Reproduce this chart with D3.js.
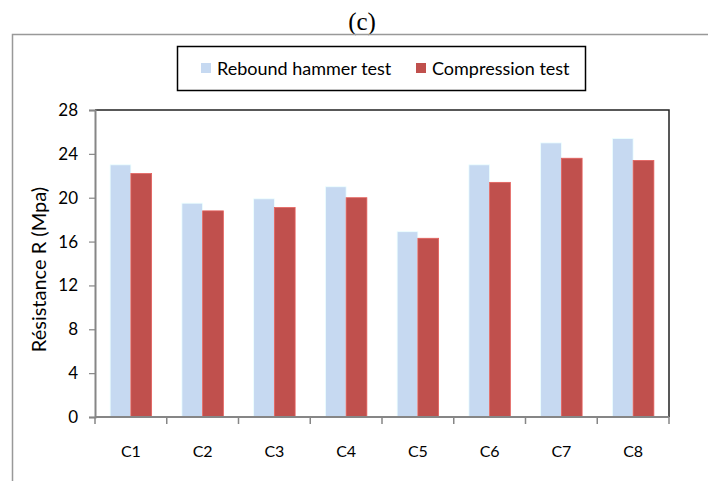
<!DOCTYPE html>
<html>
<head>
<meta charset="utf-8">
<script src="https://cdn.jsdelivr.net/npm/d3@7"></script>
<style>
  body { margin: 0; background: #fff; }
  text { font-family: Lato, "Open Sans", sans-serif; fill: #000; }
</style>
</head>
<body>
<div id="chart"></div>
<script>
var categories = ['C1', 'C2', 'C3', 'C4', 'C5', 'C6', 'C7', 'C8'],
  seriesNames = ['Rebound hammer test', 'Compression test'],
  rebound = [23.0, 19.5, 19.9, 21.0, 16.9, 23.0, 25.0, 25.4],
  compression = [22.2, 18.8, 19.1, 20.0, 16.3, 21.4, 23.6, 23.4],
  yTicks = [0, 4, 8, 12, 16, 20, 24, 28],
  colors = ['#c6d9f1', '#c0504d'];

var width = 708,
  height = 481,
  plotL = 95, plotR = 669, plotT = 110, plotB = 417;

var svg = d3.select('#chart')
  .append('svg')
  .attr('width', width)
  .attr('height', height);

// title
svg.append('text')
  .attr('x', 362)
  .attr('y', 30)
  .attr('text-anchor', 'middle')
  .style('font-family', '"Liberation Serif", serif')
  .style('font-size', '25px')
  .text('(c)');

// outer frame (top and left edges only visible)
svg.append('path')
  .attr('d', 'M 12.5 481 L 12.5 34.5 L 708 34.5')
  .attr('fill', 'none')
  .attr('stroke', '#999')
  .attr('stroke-width', 1.5);

var x0 = d3.scaleBand().domain(categories).range([plotL, plotR]).padding(0);
var x1 = d3.scaleBand().domain(seriesNames).range([0, x0.bandwidth()])
  .paddingInner(0).paddingOuter(0.73);
var y = d3.scaleLinear().domain([0, 28]).range([plotB, plotT]);

var rows = categories.map(function(c, i) {
  return { cat: c, vals: [rebound[i], compression[i]] };
});

// plot frame top / right
svg.append('path')
  .attr('d', 'M ' + plotL + ' ' + plotT + ' L ' + plotR + ' ' + plotT + ' L ' + plotR + ' ' + plotB)
  .attr('fill', 'none')
  .attr('stroke', '#222')
  .attr('stroke-width', 1.5);

// bars
var groups = svg.selectAll('g.cat')
  .data(rows)
  .enter().append('g')
  .attr('class', 'cat')
  .attr('transform', function(d) { return 'translate(' + x0(d.cat) + ',0)'; });

groups.selectAll('rect')
  .data(function(d) { return d.vals.map(function(v, j) { return { s: seriesNames[j], v: v, j: j }; }); })
  .enter().append('rect')
  .attr('x', function(d) { return x1(d.s); })
  .attr('y', function(d) { return y(d.v); })
  .attr('width', x1.bandwidth())
  .attr('height', function(d) { return plotB - y(d.v); })
  .style('fill', function(d) { return colors[d.j]; })
  .style('stroke', function(d) { return d3.color(colors[d.j]).brighter(0.5); })
  .style('stroke-width', 0.8);

// y axis
var yAxis = svg.append('g')
  .attr('transform', 'translate(' + plotL + ',0)')
  .call(d3.axisLeft(y).tickValues(yTicks).tickSize(6).tickPadding(11));
yAxis.select('.domain').attr('stroke', '#868686').attr('stroke-width', 2);
yAxis.selectAll('.tick line').attr('stroke', '#868686').attr('stroke-width', 1.2);
yAxis.selectAll('.tick text').style('font-size', '17px').style('font-family', 'Lato, sans-serif');

// x axis: ticks at category boundaries
var xAxis = svg.append('g')
  .attr('transform', 'translate(0,' + plotB + ')');
xAxis.append('line')
  .attr('x1', plotL).attr('x2', plotR)
  .attr('stroke', '#868686').attr('stroke-width', 2);
var bounds = categories.map(function(c) { return x0(c); }).concat([plotR]);
xAxis.selectAll('line.tk')
  .data(bounds)
  .enter().append('line')
  .attr('class', 'tk')
  .attr('x1', function(d) { return d; })
  .attr('x2', function(d) { return d; })
  .attr('y1', 0).attr('y2', 7)
  .attr('stroke', '#868686').attr('stroke-width', 1.5);
xAxis.selectAll('text')
  .data(categories)
  .enter().append('text')
  .attr('x', function(d) { return x0(d) + x0.bandwidth() / 2; })
  .attr('y', 40)
  .attr('text-anchor', 'middle')
  .style('font-size', '16px')
  .text(function(d) { return d; });

// y label
svg.append('text')
  .attr('transform', 'translate(46,' + ((plotT + plotB) / 2 + 6) + ') rotate(-90)')
  .attr('text-anchor', 'middle')
  .style('font-size', '20px')
  .text('Résistance R (Mpa)');

// legend
svg.append('rect')
  .attr('x', 177.5).attr('y', 46.5)
  .attr('width', 408).attr('height', 44)
  .attr('fill', '#fff')
  .attr('stroke', '#000')
  .attr('stroke-width', 1.5);

var legX = [201, 416];
var leg = svg.selectAll('g.leg')
  .data(seriesNames)
  .enter().append('g')
  .attr('class', 'leg')
  .attr('transform', function(d, i) { return 'translate(' + legX[i] + ',63)'; });
leg.append('rect')
  .attr('width', 10).attr('height', 10)
  .style('fill', function(d, i) { return colors[i]; });
leg.append('text')
  .attr('x', 16).attr('y', 12)
  .style('font-size', '18px')
  .text(function(d) { return d; });
</script>
</body>
</html>
